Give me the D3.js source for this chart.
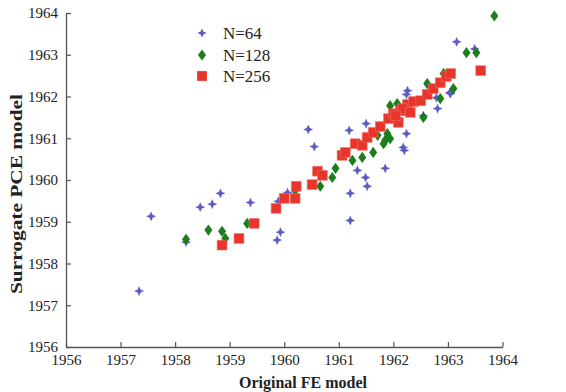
<!DOCTYPE html>
<html>
<head>
<meta charset="utf-8">
<script src="https://cdn.jsdelivr.net/npm/d3@7"></script>
<style>
  html, body { margin: 0; padding: 0; background: #fff; }
  svg { display: block; }
</style>
</head>
<body>
<svg id="chart" width="566" height="392"></svg>
<script>
// ---- data ----
const xTicks = [1956, 1957, 1958, 1959, 1960, 1961, 1962, 1963, 1964];
const yTicks = [1956, 1957, 1958, 1959, 1960, 1961, 1962, 1963, 1964];
const seriesNames = ["N=64", "N=128", "N=256"];

const n64X = [1957.34,1957.56,1958.46,1958.68,1958.83,1959.38,1958.20,1959.93,1959.87,1959.89,1960.06,1960.44,1960.55,1961.19,1961.50,1961.21,1961.52,1961.49,1961.34,1961.85,1962.18,1962.20,1962.24,1962.81,1962.79,1962.26,1962.24,1963.05,1962.55,1963.16,1963.49,1963.03,1961.21];
const n64Y = [1957.34,1959.13,1959.35,1959.42,1959.68,1959.46,1958.51,1958.75,1958.56,1959.49,1959.70,1961.21,1960.80,1961.19,1961.35,1959.68,1959.85,1960.06,1960.23,1960.28,1960.78,1960.71,1961.11,1961.71,1961.97,1962.14,1962.05,1962.07,1961.54,1963.31,1963.14,1962.09,1959.03];

const n128X = [1958.20,1958.61,1958.86,1958.92,1959.32,1960.20,1960.66,1960.88,1960.94,1961.25,1961.43,1961.63,1961.82,1961.94,1961.89,1961.94,1962.07,1962.55,1962.86,1963.10,1962.62,1962.92,1963.85,1963.34,1963.52,1961.85,1961.71];
const n128Y = [1958.58,1958.80,1958.77,1958.60,1958.96,1959.75,1959.85,1960.06,1960.28,1960.47,1960.54,1960.66,1960.87,1960.99,1961.11,1961.78,1961.83,1961.50,1961.95,1962.19,1962.31,1962.55,1963.93,1963.05,1963.05,1960.95,1961.07];

const n256X = [1958.86,1959.17,1959.45,1959.85,1960.00,1960.20,1960.22,1960.51,1960.61,1960.70,1961.06,1961.12,1961.30,1961.43,1961.52,1961.63,1961.76,1961.91,1962.00,1962.09,1962.13,1962.26,1962.37,1962.50,1962.62,1962.73,1962.86,1962.97,1963.05,1963.60,1962.17,1962.31,1962.04];
const n256Y = [1958.44,1958.60,1958.96,1959.32,1959.56,1959.56,1959.85,1959.89,1960.21,1960.11,1960.59,1960.66,1960.87,1960.83,1961.02,1961.14,1961.28,1961.47,1961.59,1961.38,1961.66,1961.81,1961.88,1961.90,1962.05,1962.19,1962.33,1962.48,1962.55,1962.62,1961.71,1961.62,1961.54];

// ---- layout ----
const svg = d3.select("#chart");
const mLeft = 66, mRight = 502.5, mTop = 13, mBottom = 347;
const x = d3.scaleLinear().domain([1956, 1964]).range([mLeft, mRight]);
const y = d3.scaleLinear().domain([1956, 1964]).range([mBottom, mTop]);

const serif = "'Liberation Serif', 'Times New Roman', serif";
const axisColor = "#555";

// axes
const gx = svg.append("g").attr("transform", `translate(0,${mBottom})`)
  .call(d3.axisBottom(x).tickValues(xTicks).tickFormat(d3.format("d"))
    .tickSizeInner(-5).tickSizeOuter(0).tickPadding(7));
const gy = svg.append("g").attr("transform", `translate(${mLeft},0)`)
  .call(d3.axisLeft(y).tickValues(yTicks).tickFormat(d3.format("d"))
    .tickSizeInner(-5).tickSizeOuter(0).tickPadding(8));

[gx, gy].forEach(g => {
  g.select(".domain").attr("stroke", axisColor).attr("stroke-width", 1.3);
  g.selectAll(".tick line").attr("stroke", axisColor).attr("stroke-width", 1.2);
  g.selectAll(".tick text").attr("fill", "#222")
    .style("font-family", serif).style("font-size", "15px");
});

// axis titles
svg.append("text")
  .attr("x", 303).attr("y", 388)
  .attr("text-anchor", "middle")
  .style("font-family", serif).style("font-size", "16px").style("font-weight", "bold")
  .attr("fill", "#222")
  .text("Original FE model");

svg.append("text")
  .attr("transform", "translate(22,194) rotate(-90)")
  .attr("text-anchor", "middle")
  .attr("textLength", 200).attr("lengthAdjust", "spacingAndGlyphs")
  .style("font-family", serif).style("font-size", "16px").style("font-weight", "bold")
  .attr("fill", "#222")
  .text("Surrogate PCE model");

// markers
const blue = "#5b5bc2", green = "#1b7d1b", red = "#e8352c";
function starPath(r, ri) {
  return `M0,${-r} L${ri},${-ri} L${r},0 L${ri},${ri} L0,${r} L${-ri},${ri} L${-r},0 L${-ri},${-ri} Z`;
}
const star = starPath(4.6, 1.4);
const diamond = "M0,-5.6 L4,0 L0,5.6 L-4,0 Z";
const square = "M-4.9,-4.9 H4.9 V4.9 H-4.9 Z";

const s64 = d3.zip(n64X, n64Y);
const s128 = d3.zip(n128X, n128Y);
const s256 = d3.zip(n256X, n256Y);

const plot = svg.append("g");
plot.selectAll("path.b").data(s64).join("path").attr("class", "b")
  .attr("d", star).attr("fill", blue).attr("stroke", blue).attr("stroke-width", 0.6).attr("stroke-opacity", 0.5)
  .attr("transform", d => `translate(${x(d[0])},${y(d[1])})`);
plot.selectAll("path.g").data(s128).join("path").attr("class", "g")
  .attr("d", diamond).attr("fill", green)
  .attr("transform", d => `translate(${x(d[0])},${y(d[1])})`);
plot.selectAll("path.r").data(s256).join("path").attr("class", "r")
  .attr("d", square).attr("fill", red).attr("stroke", "#f06a60").attr("stroke-width", 0.6)
  .attr("transform", d => `translate(${x(d[0])},${y(d[1])})`);

// legend
const legend = svg.append("g");
const legShapes = [star, diamond, square];
const legColors = [blue, green, red];
const legY = [33, 55, 76];
seriesNames.forEach((name, i) => {
  legend.append("path").attr("d", legShapes[i]).attr("fill", legColors[i])
    .attr("transform", `translate(202,${legY[i]})`);
  legend.append("text").attr("x", 223).attr("y", legY[i]).attr("dy", "0.35em")
    .style("font-family", serif).style("font-size", "17px").attr("fill", "#222")
    .text(name);
});
</script>
</body>
</html>
